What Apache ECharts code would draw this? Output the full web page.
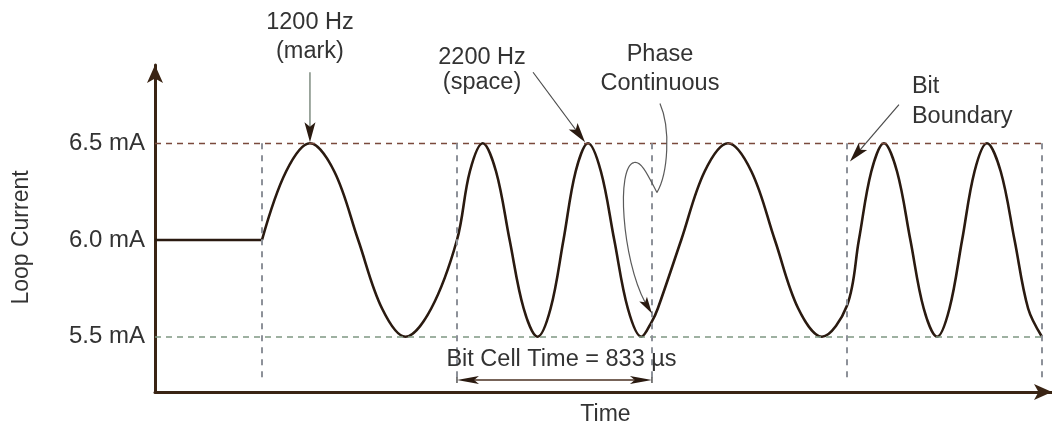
<!DOCTYPE html>
<html>
<head>
<meta charset="utf-8">
<script src="https://cdn.jsdelivr.net/npm/echarts@6/dist/echarts.min.js"></script>
<style>
html,body{margin:0;padding:0;background:#ffffff;}
#c{width:1052px;height:425px;}
</style>
</head>
<body>
<div id="c"></div>
<script>
// ---- data (time in microseconds, current in mA) ----
const idleTime = [0, 457];
const idleCurrent = [6.0, 6.0];

const waveTime = [457,560,662,766,868,970,1070,1180,1290,
  1345,1400,1457,1515,1575,1634,1690,1745,1797,1850,1905,1962,2020,2078,2123,
  2148,2248,2348,2448,2548,2648,2748,2849,2956,
  3007,3060,3114,3170,3227,3284,3341,3394,3448,3501,3554,3613,3672,3730,3789];
const waveCurrent = [6.0,6.354,6.5,6.354,6.0,5.646,5.5,5.646,6.0,
  6.354,6.5,6.354,6.0,5.646,5.5,5.646,6.0,6.354,6.5,6.354,6.0,5.646,5.5,5.58,
  5.646,6.0,6.354,6.5,6.354,6.0,5.646,5.5,5.66,
  6.0,6.354,6.5,6.354,6.0,5.646,5.5,5.646,6.0,6.354,6.5,6.354,6.0,5.646,5.5];

const bitBoundaries = [457, 1290, 2123, 2956, 3789];
const levelValues = [5.5, 6.0, 6.5];
const levelLabels = ['5.5 mA', '6.0 mA', '6.5 mA'];
const highLevel = 6.5;
const lowLevel = 5.5;
const guideBottom = 5.26;
const bitCellLevel = 5.277;

const xAxisName = 'Time';
const yAxisName = 'Loop Current';
const markNote = ['1200 Hz', '(mark)'];
const spaceNote = ['2200 Hz', '(space)'];
const phaseNote = ['Phase', 'Continuous'];
const boundaryNote = ['Bit', 'Boundary'];
const bitCellNote = 'Bit Cell Time = 833 \u00b5s';

// annotation anchors in data units
const markTarget = [662, 6.5];
const spaceTarget = [1850, 6.5];
const phaseTarget = [2123, 5.62];
const boundaryTarget = [2956, 6.40];

// ---- styling ----
const FONT = '"Liberation Sans", Arial, Helvetica, sans-serif';
const TEXT = '#333333';
const AXIS = '#3a2414';
const WAVE = '#2a1a10';
const HEAD = '#2a1a10';

const zip = (a, b) => a.map((v, i) => [v, b[i]]);

const chart = echarts.init(document.getElementById('c'), null, {renderer: 'canvas'});

const option = {
  animation: false,
  backgroundColor: '#ffffff',
  grid: {left: 155, right: 0, top: 65, bottom: 33, containLabel: false, outerBoundsMode: 'none'},
  xAxis: {
    type: 'value', min: 0, max: 3832,
    name: xAxisName, nameLocation: 'middle', nameGap: 11,
    nameTextStyle: {fontFamily: FONT, fontSize: 23, color: TEXT, padding: [0, 0, 0, 4]},
    axisLine: {show: true, onZero: false, symbol: ['none', 'arrow'], symbolSize: [12, 18],
      lineStyle: {color: AXIS, width: 3}},
    axisTick: {show: false}, axisLabel: {show: false}, splitLine: {show: false}
  },
  yAxis: {
    type: 'value', min: 5.2145, max: 6.9045,
    name: yAxisName, nameLocation: 'middle', nameGap: 122, nameRotate: 90,
    nameTextStyle: {fontFamily: FONT, fontSize: 23, color: TEXT, padding: [0, 18, 0, 0]},
    axisLine: {show: true, symbol: ['none', 'arrow'], symbolSize: [12, 18],
      lineStyle: {color: AXIS, width: 3}},
    axisTick: {show: false},
    axisLabel: {
      customValues: levelValues, margin: 10,
      fontFamily: FONT, fontSize: 24, color: TEXT,
      formatter: v => {
        const i = levelValues.findIndex(l => Math.abs(l - v) < 1e-6);
        return i >= 0 ? levelLabels[i] : '';
      }
    },
    splitLine: {show: false}
  },
  series: [
    {
      type: 'line', name: 'guides', data: [], silent: true,
      markLine: {
        silent: true, symbol: 'none', animation: false, label: {show: false},
        data: [
          [{coord: [0, highLevel], lineStyle: {color: '#7a4a3c', width: 1.4, type: [6, 5]}},
           {coord: [bitBoundaries[bitBoundaries.length - 1], highLevel]}],
          [{coord: [0, lowLevel], lineStyle: {color: '#7f9883', width: 1.6, type: [6, 5]}},
           {coord: [bitBoundaries[bitBoundaries.length - 1], lowLevel]}]
        ].concat(bitBoundaries.map(b => [
          {coord: [b, highLevel], lineStyle: {color: '#8d9199', width: 2, type: [6, 6]}},
          {coord: [b, guideBottom]}
        ]))
      }
    },
    {
      type: 'line', name: 'idle', data: zip(idleTime, idleCurrent),
      showSymbol: false, symbol: 'none', silent: true,
      lineStyle: {color: WAVE, width: 2.6}
    },
    {
      type: 'line', name: 'fsk', data: zip(waveTime, waveCurrent),
      smooth: 0.35, showSymbol: false, symbol: 'none', silent: true,
      lineStyle: {color: WAVE, width: 2.6}
    }
  ]
};
chart.setOption(option);

// ---- annotations ----
const P = (d) => chart.convertToPixel({gridIndex: 0}, d);

function head(sx, sy, tx, ty, len, w, color) {
  const dx = tx - sx, dy = ty - sy, L = Math.hypot(dx, dy);
  const ux = dx / L, uy = dy / L, nx = -uy, ny = ux;
  const bx = tx - ux * len, by = ty - uy * len;
  const notch = [tx - ux * len * 0.78, ty - uy * len * 0.78];
  return {
    el: {type: 'polygon', silent: true, z: 20,
      shape: {points: [[tx, ty], [bx + nx * w / 2, by + ny * w / 2], notch, [bx - nx * w / 2, by - ny * w / 2]]},
      style: {fill: color}},
    notch
  };
}
function arrow(sx, sy, tx, ty, len, w, lineColor, lw) {
  const h = head(sx, sy, tx, ty, len, w, HEAD);
  return [
    {type: 'line', silent: true, z: 19, shape: {x1: sx, y1: sy, x2: h.notch[0], y2: h.notch[1]},
      style: {stroke: lineColor, lineWidth: lw}},
    h.el
  ];
}
function txt(s, x, y, align) {
  return {type: 'text', silent: true, z: 20,
    style: {text: s, x: x, y: y, fill: TEXT, font: '23.5px ' + FONT, align: align || 'center', verticalAlign: 'middle'}};
}

const els = [];
// 1200 Hz mark
const m = P(markTarget);
els.push(...arrow(m[0], m[1] - 71, m[0], m[1] - 1, 20, 11, '#5f6f62', 1.2));
els.push(txt(markNote[0], m[0], m[1] - 121), txt(markNote[1], m[0], m[1] - 92));
// 2200 Hz space
const s = P(spaceTarget);
els.push(...arrow(s[0] - 55, s[1] - 71, s[0] - 3, s[1] - 1, 20, 11, '#4a4a4a', 1.2));
els.push(txt(spaceNote[0], s[0] - 106, s[1] - 86), txt(spaceNote[1], s[0] - 106, s[1] - 61));
// Phase continuous
const pc = P(phaseTarget);
const tx = pc[0], ty = pc[1];
const curveStyle = {stroke: '#5a5a5a', lineWidth: 1.2, fill: null};
els.push({type: 'bezierCurve', silent: true, z: 19,
  shape: {x1: tx + 8, y1: ty - 210, cpx1: tx + 19, cpy1: ty - 185, cpx2: tx + 16, cpy2: ty - 140, x2: tx + 5, y2: ty - 121},
  style: curveStyle});
els.push({type: 'bezierCurve', silent: true, z: 19,
  shape: {x1: tx + 5, y1: ty - 121, cpx1: tx - 3, cpy1: ty - 136, cpx2: tx - 10, cpy2: ty - 153, x2: tx - 18, y2: ty - 151},
  style: curveStyle});
const ph = head(tx - 11, ty - 18, tx, ty, 17, 9, HEAD);
els.push({type: 'bezierCurve', silent: true, z: 19,
  shape: {x1: tx - 18, y1: ty - 151, cpx1: tx - 36, cpy1: ty - 147, cpx2: tx - 30, cpy2: ty - 55, x2: ph.notch[0], y2: ph.notch[1]},
  style: curveStyle});
els.push(ph.el);
els.push(txt(phaseNote[0], tx + 8, ty - 259), txt(phaseNote[1], tx + 8, ty - 230));
// Bit boundary
const bb = P(boundaryTarget);
els.push(...arrow(bb[0] + 52, bb[1] - 58, bb[0] + 3, bb[1] - 1, 20, 11, '#4a4a4a', 1.2));
els.push(txt(boundaryNote[0], bb[0] + 65, bb[1] - 76, 'left'), txt(boundaryNote[1], bb[0] + 65, bb[1] - 46, 'left'));
// Bit cell time double arrow
const a1 = P([bitBoundaries[1], bitCellLevel]);
const a2 = P([bitBoundaries[2], bitCellLevel]);
const hL = head(a2[0], a2[1], a1[0], a1[1], 22, 8, HEAD);
const hR = head(a1[0], a1[1], a2[0], a2[1], 22, 8, HEAD);
els.push({type: 'line', silent: true, z: 19, shape: {x1: hL.notch[0], y1: a1[1], x2: hR.notch[0], y2: a2[1]},
  style: {stroke: '#4a3022', lineWidth: 1.5}});
els.push(hL.el, hR.el);
els.push({type: 'line', silent: true, z: 19, shape: {x1: a1[0], y1: a1[1] - 3, x2: a1[0], y2: a1[1] + 3}, style: {stroke: '#555', lineWidth: 1.5}});
els.push({type: 'line', silent: true, z: 19, shape: {x1: a2[0], y1: a2[1] - 3, x2: a2[0], y2: a2[1] + 3}, style: {stroke: '#555', lineWidth: 1.5}});
els.push(txt(bitCellNote, (a1[0] + a2[0]) / 2 + 7, a1[1] - 20));

chart.setOption({graphic: {elements: els}});
</script>
</body>
</html>
